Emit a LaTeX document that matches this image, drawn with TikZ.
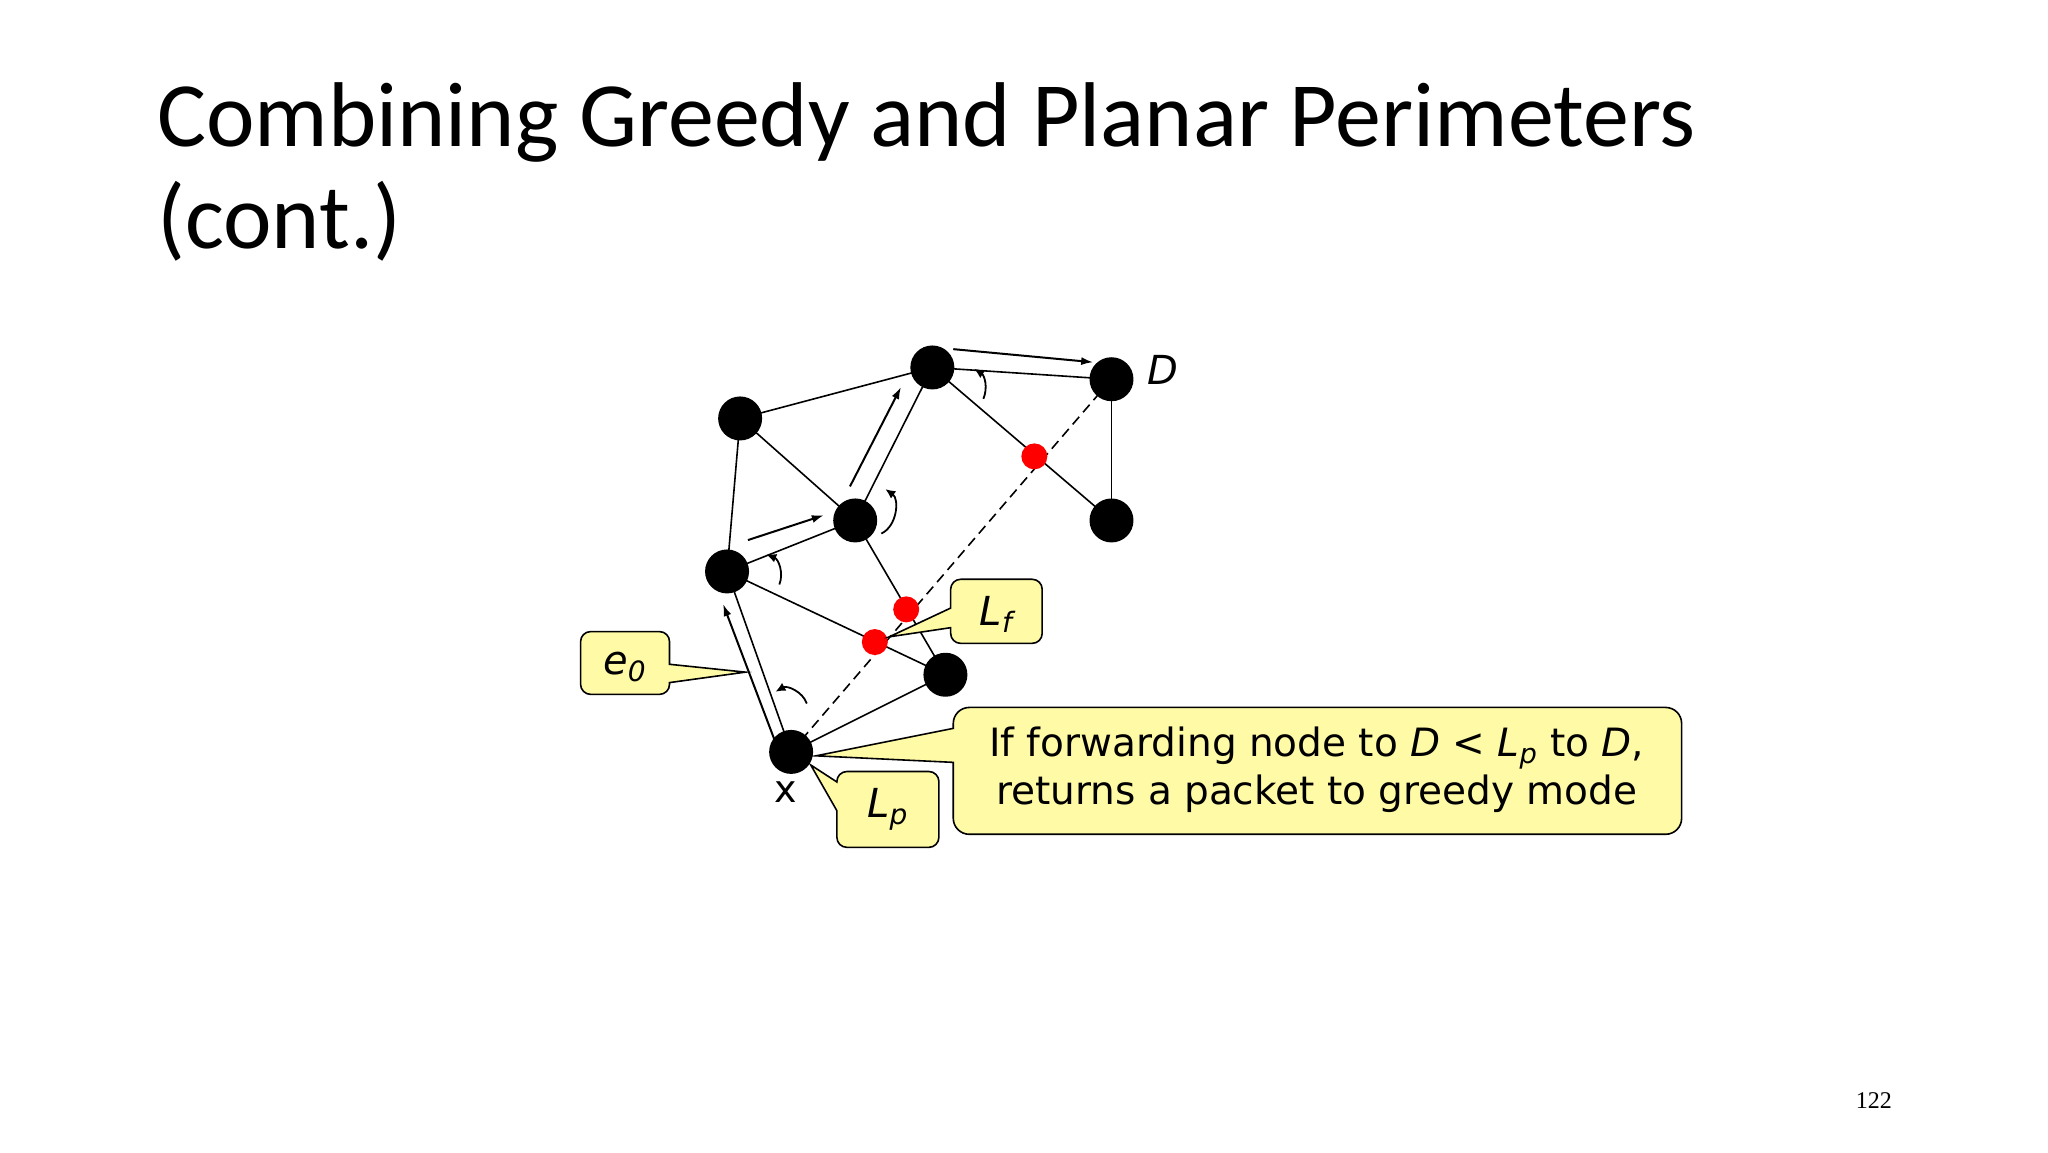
\documentclass[tikz,border=0pt]{standalone}
\usepackage{fontspec}
\setmainfont{DejaVu Sans}
\newfontfamily\titlefont{Carlito}
\newfontfamily\pgfont{Liberation Serif}
\usetikzlibrary{arrows.meta}
\begin{document}
\begin{tikzpicture}[x=0.654pt,y=-0.654pt,
  edge/.style={line width=0.8pt},
  par/.style={line width=1pt,-{Latex[length=6pt,width=4pt]}},
  turn/.style={line width=0.9pt,-{Latex[length=5pt,width=4.5pt]}},
  callout/.style={fill=yellow!35!white,draw=black,line width=0.8pt},
  lab/.style={font=\fontsize{20}{22}\selectfont\itshape,inner sep=0pt}]
\path[use as bounding box] (0pt,0pt) rectangle (1024.3pt,-576.2pt);
\fill[white] (0pt,0pt) rectangle (1024.3pt,-576.2pt);
\node[anchor=base west,inner sep=0pt,font=\titlefont\fontsize{46}{52}\selectfont] (t1) at (120,112) {Combining Greedy and Planar Perimeters};
\node[anchor=base west,inner sep=0pt,font=\titlefont\fontsize{46}{52}\selectfont] (t2) at (120,190) {(cont.)};
\node[font=\pgfont\fontsize{12}{14}\selectfont] (pg) at (1433,842) {122};
% named positions
\coordinate (x) at (605,575);
\coordinate (a) at (556,437);
\coordinate (b) at (566,320);
\coordinate (c) at (654,398);
\coordinate (t) at (713,281);
\coordinate (d) at (850,290);
\coordinate (e) at (850,398);
\coordinate (f) at (723,516);
\coordinate (r1) at (791,349);
\coordinate (r2) at (693,466);
\coordinate (r3) at (669,491);
\draw[edge] (x) -- (a);
\draw[edge] (x) -- (f);
\draw[edge] (a) -- (b);
\draw[edge] (a) -- (c);
\draw[edge] (a) -- (f);
\draw[edge] (b) -- (t);
\draw[edge] (b) -- (c);
\draw[edge] (c) -- (t);
\draw[edge] (c) -- (f);
\draw[edge] (t) -- (e);
\draw[edge] (t) -- (d);
\draw[edge] (d) -- (e);
\draw[edge,dash pattern=on 5pt off 3pt] (x) -- (d);
\foreach \n in {x,a,b,c,t,d,e,f}{\fill (\n) circle (11pt);}
\foreach \n in {r1,r2,r3}{\fill[red] (\n) circle (6.5pt);}
% parallel arrows
\coordinate (p1s) at (592,565); \coordinate (p1e) at (553,462);
\coordinate (p2s) at (572,413); \coordinate (p2e) at (630,394);
\coordinate (p3s) at (650,372); \coordinate (p3e) at (689,296);
\coordinate (p4s) at (729,267); \coordinate (p4e) at (836,277);
\draw[par] (p1s) -- (p1e);
\draw[par] (p2s) -- (p2e);
\draw[par] (p3s) -- (p3e);
\draw[par] (p4s) -- (p4e);
% turn arrows
\coordinate (c1s) at (617,538); \coordinate (c1e) at (593,529);
\coordinate (c2s) at (596,447); \coordinate (c2e) at (586,424);
\coordinate (c3s) at (674,408); \coordinate (c3e) at (677,374);
\coordinate (c4s) at (752,305); \coordinate (c4e) at (745,282);
\draw[turn] (c1s) to[bend right=50] (c1e);
\draw[turn] (c2s) to[bend right=45] (c2e);
\draw[turn] (c3s) to[bend right=60] (c3e);
\draw[turn] (c4s) to[bend right=40] (c4e);
% labels
\node[lab] (dl) at (889,283) {D};
\node[font=\fontsize{19}{20}\selectfont,inner sep=0pt] (xl) at (601,606) {x};
% callouts
\coordinate (e0tip) at (570,514);
\draw[callout] (512,522) -- (e0tip) -- (512,508) [rounded corners=5pt] -- (512,483) -- (444,483) -- (444,531) -- (512,531) [sharp corners] -- cycle;
\node[lab] (e0) at (478,510) {e\textsubscript{0}};
\coordinate (lftip) at (680,487);
\draw[callout] (727,465) -- (lftip) -- (727,480) [rounded corners=5pt] -- (727,492) -- (797,492) -- (797,443) -- (727,443) [sharp corners] -- cycle;
\node[lab] (lf) at (762,470) {L\textsubscript{f}};
\coordinate (lptip) at (620,585);
\draw[callout] (640,598) -- (lptip) -- (640,620) [rounded corners=5pt] -- (640,648) -- (718,648) -- (718,590) -- (640,590) [sharp corners] -- cycle;
\node[lab] (lp) at (679,619) {L\textsubscript{p}};
\coordinate (bigtip) at (624,578);
\draw[callout] (729,557) -- (bigtip) -- (729,583) [rounded corners=8pt] -- (729,638) -- (1286,638) -- (1286,541) -- (729,541) [sharp corners] -- cycle;
\node[font=\fontsize{19.5}{24}\selectfont,align=center,inner sep=0pt] (big) at (1007,589) {If forwarding node to \textit{D} < \textit{L}\textsubscript{\textit{p}} to \textit{D},\\returns a packet to greedy mode};
\end{tikzpicture}
\end{document}
